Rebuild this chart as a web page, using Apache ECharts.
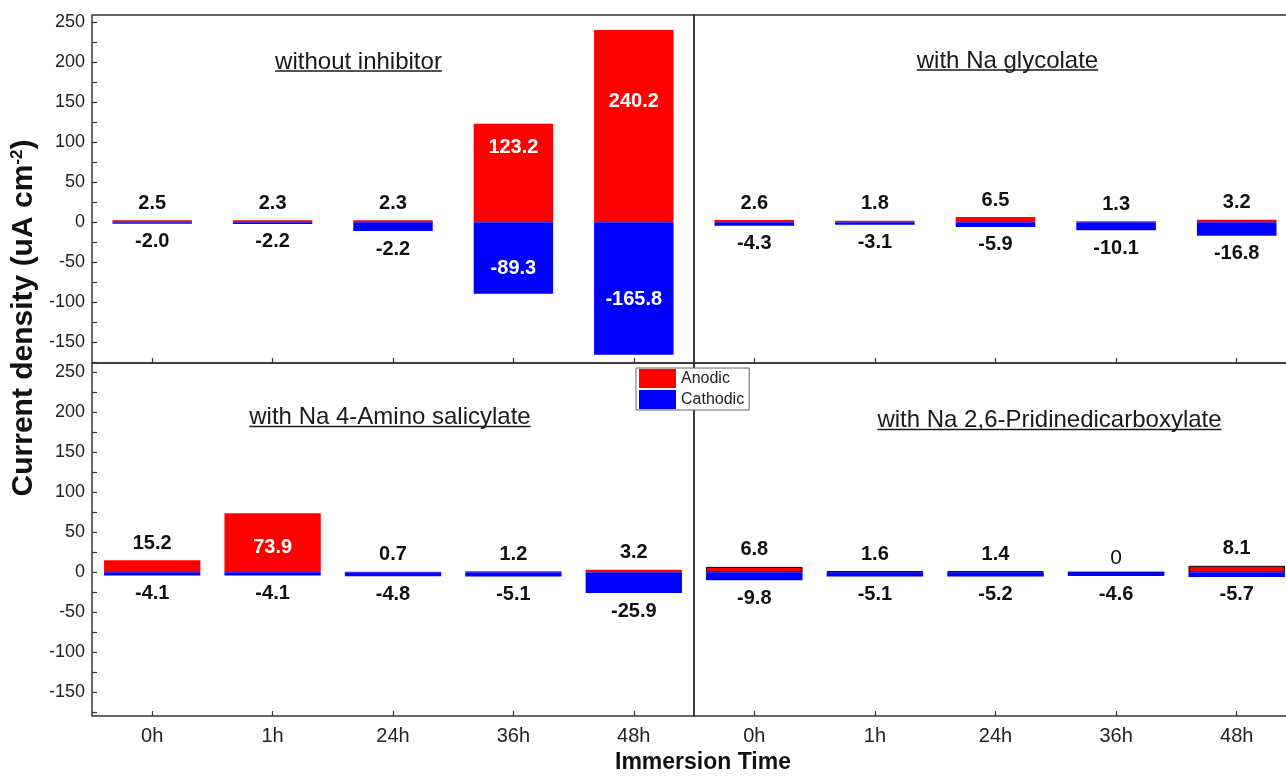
<!DOCTYPE html>
<html>
<head>
<meta charset="utf-8">
<script src="https://cdn.jsdelivr.net/npm/echarts@6/dist/echarts.min.js"></script>
<style>
html,body{margin:0;padding:0;background:#fff;overflow:hidden;width:1286px;height:776px;}
#c{width:1300px;height:776px;}
</style>
</head>
<body>
<div id="c"></div>
<script>
// ---------------- data ----------------
const categories = ['0h', '1h', '24h', '36h', '48h'];
const panelTitles = ['without inhibitor', 'with Na glycolate', 'with Na 4-Amino salicylate', 'with Na 2,6-Pridinedicarboxylate'];
const yTickLabels = [-150, -100, -50, 0, 50, 100, 150, 200, 250];
const yMinorTicks = [-175, -150, -125, -100, -75, -50, -25, 0, 25, 50, 75, 100, 125, 150, 175, 200, 225, 250];

// without inhibitor (bar heights as drawn, labels as printed)
const noInhAnodic = [2.5, 2.3, 2.3, 123.2, 240.2];
const noInhCathodic = [-2.0, -2.2, -11.0, -89.3, -165.8];
const noInhAnodicLabels = ['2.5', '2.3', '2.3', '123.2', '240.2'];
const noInhCathodicLabels = ['-2.0', '-2.2', '-2.2', '-89.3', '-165.8'];

// with Na glycolate
const glyAnodic = [2.6, 1.8, 6.5, 1.3, 3.2];
const glyCathodic = [-4.3, -3.1, -5.9, -10.1, -16.8];
const glyAnodicLabels = ['2.6', '1.8', '6.5', '1.3', '3.2'];
const glyCathodicLabels = ['-4.3', '-3.1', '-5.9', '-10.1', '-16.8'];

// with Na 4-Amino salicylate
const amsAnodic = [15.2, 73.9, 0.7, 1.2, 3.2];
const amsCathodic = [-4.1, -4.1, -4.8, -5.1, -25.9];
const amsAnodicLabels = ['15.2', '73.9', '0.7', '1.2', '3.2'];
const amsCathodicLabels = ['-4.1', '-4.1', '-4.8', '-5.1', '-25.9'];

// with Na 2,6-Pridinedicarboxylate
const pdcAnodic = [6.8, 1.6, 1.4, 0, 8.1];
const pdcCathodic = [-9.8, -5.1, -5.2, -4.6, -5.7];
const pdcAnodicLabels = ['6.8', '1.6', '1.4', '0', '8.1'];
const pdcCathodicLabels = ['-9.8', '-5.1', '-5.2', '-4.6', '-5.7'];

// ---------------- layout / style ----------------
const FONT = '"Liberation Sans", Arial, Helvetica, sans-serif';
const RED = '#ff0000', BLUE = '#0000ff';

const panels = [
  { grid: { left: 92, top: 15, width: 602, height: 348 }, yMin: -176, yMax: 259, leftAxis: true, bottomLabels: false,
    anodic: noInhAnodic, cathodic: noInhCathodic, aLabels: noInhAnodicLabels, cLabels: noInhCathodicLabels,
    barWidth: '66%', bigOffA: -25, bigOffC: 11, border: false,
    title: { x: 358.5, y: 62, uy: 71 } },
  { grid: { left: 694, top: 15, width: 603, height: 348 }, yMin: -176, yMax: 259, leftAxis: false, bottomLabels: false,
    anodic: glyAnodic, cathodic: glyCathodic, aLabels: glyAnodicLabels, cLabels: glyCathodicLabels,
    barWidth: '66%', bigOffA: -25, bigOffC: 11, border: false,
    title: { x: 1007.5, y: 61, uy: 70 } },
  { grid: { left: 92, top: 363, width: 602, height: 353 }, yMin: -179.5, yMax: 261.5, leftAxis: true, bottomLabels: true,
    anodic: amsAnodic, cathodic: amsCathodic, aLabels: amsAnodicLabels, cLabels: amsCathodicLabels,
    barWidth: '80%', bigOffA: 5, bigOffC: 11, border: false,
    title: { x: 390, y: 417.5, uy: 426.5 } },
  { grid: { left: 694, top: 363, width: 603, height: 353 }, yMin: -179.5, yMax: 261.5, leftAxis: false, bottomLabels: true,
    anodic: pdcAnodic, cathodic: pdcCathodic, aLabels: pdcAnodicLabels, cLabels: pdcCathodicLabels,
    barWidth: '80%', bigOffA: 5, bigOffC: 11, border: true,
    title: { x: 1049.5, y: 420.5, uy: 429.5 } }
];

const grids = [], xAxes = [], yAxes = [], series = [], graphics = [];

function measure(text, font) {
  const cv = document.createElement('canvas');
  const ctx = cv.getContext('2d');
  ctx.font = font;
  return ctx.measureText(text).width;
}

panels.forEach((p, i) => {
  grids.push(Object.assign({ show: true, borderColor: '#333', borderWidth: 1.5, backgroundColor: 'transparent', containLabel: false }, p.grid));
  xAxes.push({
    type: 'category', gridIndex: i, data: categories,
    axisLine: { show: false, onZero: false },
    axisTick: { show: true, inside: true, alignWithLabel: true, length: 5, lineStyle: { color: '#333', width: 1.2 } },
    axisLabel: { show: p.bottomLabels, fontSize: 20, color: '#222', margin: 10, fontFamily: FONT },
    splitLine: { show: false }
  });
  yAxes.push({
    type: 'value', gridIndex: i, min: p.yMin, max: p.yMax,
    axisLine: { show: false, onZero: false },
    splitLine: { show: false },
    axisTick: { show: p.leftAxis, inside: true, length: 5, customValues: yMinorTicks, lineStyle: { color: '#333', width: 1.2 } },
    axisLabel: { show: p.leftAxis, customValues: yTickLabels, fontSize: 18, color: '#222', margin: 7, fontFamily: FONT }
  });

  const mk = (name, values, labels, color, isAnodic) => ({
    type: 'bar', name, xAxisIndex: i, yAxisIndex: i, stack: 'panel' + i,
    barWidth: p.barWidth,
    itemStyle: (isAnodic && p.border) ? { color, borderColor: '#000', borderWidth: 1 } : { color, borderWidth: 0 },
    emphasis: { disabled: true },
    label: {
      show: true, position: isAnodic ? 'top' : 'bottom', distance: isAnodic ? 7 : 8,
      formatter: (prm) => labels[prm.dataIndex],
      fontSize: 20, fontWeight: 'bold', color: '#111', fontFamily: FONT
    },
    data: values.map((v, k) => {
      const item = { value: v };
      if (Math.abs(v) > 50) {
        item.label = { position: 'inside', color: '#fff', offset: [0, isAnodic ? p.bigOffA : p.bigOffC] };
      } else if (labels[k] === '0') {
        item.label = { fontWeight: 'normal', fontSize: 21, distance: 3 };
      }
      return item;
    })
  });
  series.push(mk('Anodic', p.anodic, p.aLabels, RED, true));
  series.push(mk('Cathodic', p.cathodic, p.cLabels, BLUE, false));

  // panel subtitle with underline
  const tFont = '24px ' + FONT;
  const w = measure(panelTitles[i], tFont);
  graphics.push({
    type: 'text', x: p.title.x, y: p.title.y, z: 10,
    style: { text: panelTitles[i], fontSize: 24, fontFamily: FONT, fill: '#1a1a1a', align: 'center', verticalAlign: 'middle' }
  });
  graphics.push({
    type: 'line', z: 10,
    shape: { x1: p.title.x - w / 2, y1: p.title.uy, x2: p.title.x + w / 2, y2: p.title.uy },
    style: { stroke: '#1a1a1a', lineWidth: 1.5 }
  });
});

// axis titles
graphics.push({
  type: 'text', x: 24, y: 318, rotation: Math.PI / 2, z: 10,
  style: {
    text: '{m|Current density (uA cm}{s|-2}{m|)}',
    align: 'center', verticalAlign: 'middle',
    rich: {
      m: { fontSize: 30, fontWeight: 'bold', fontFamily: FONT, fill: '#111' },
      s: { fontSize: 17, fontWeight: 'bold', fontFamily: FONT, fill: '#111', verticalAlign: 'top' }
    }
  }
});
graphics.push({
  type: 'text', x: 703, y: 763, z: 10,
  style: { text: 'Immersion Time', fontSize: 23, fontWeight: 'bold', fontFamily: FONT, fill: '#111', align: 'center', verticalAlign: 'middle' }
});

const chart = echarts.init(document.getElementById('c'), null, { renderer: 'canvas', width: 1300, height: 776 });
chart.setOption({
  backgroundColor: '#fff',
  animation: false,
  grid: grids,
  xAxis: xAxes,
  yAxis: yAxes,
  legend: {
    data: ['Anodic', 'Cathodic'], orient: 'vertical', left: 636, top: 368,
    itemWidth: 37, itemHeight: 19, itemGap: 2, padding: [1, 5, 1, 3],
    backgroundColor: '#fff', borderColor: '#666', borderWidth: 1, borderRadius: 0,
    icon: 'rect', selectedMode: false, z: 20,
    textStyle: { fontSize: 16, color: '#222', fontFamily: FONT }
  },
  series: series,
  graphic: graphics
});
</script>
</body>
</html>
